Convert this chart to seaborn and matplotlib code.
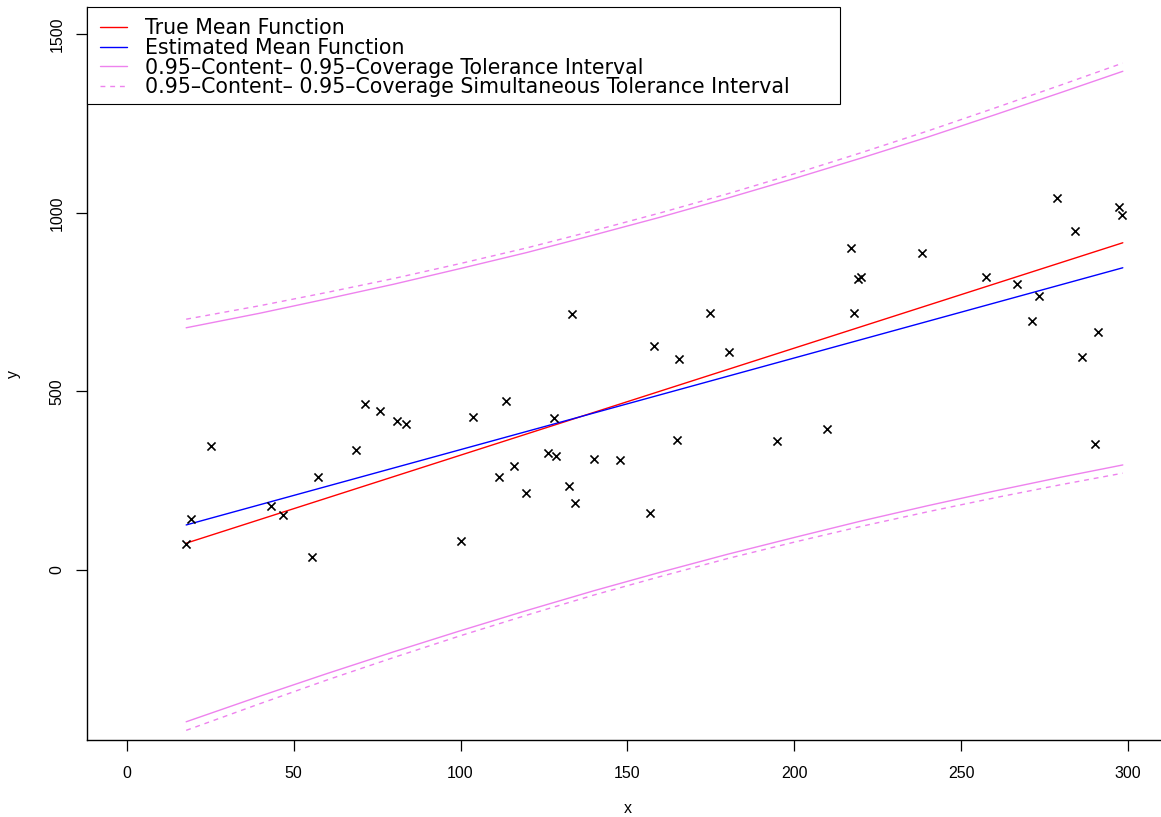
import matplotlib
matplotlib.use("Agg")
import matplotlib.pyplot as plt
from matplotlib.lines import Line2D
from matplotlib.patches import Rectangle
import seaborn as sns

# ---------------- data ----------------
x_obs = [17.8, 19.1, 25.3, 43.3, 46.8, 55.4, 57.3, 68.8, 71.4, 75.9, 81.0, 83.7,
         100.1, 103.6, 111.5, 113.5, 116.1, 119.7, 126.1, 128.1, 128.7, 132.5,
         133.4, 134.2, 140.0, 147.9, 156.9, 158.0, 164.8, 165.4, 174.7, 180.4,
         194.9, 209.7, 217.0, 217.8, 219.2, 219.9, 238.2, 257.5, 266.6, 271.1,
         273.3, 278.8, 284.0, 286.1, 290.1, 290.9, 297.4, 298.3]
y_obs = [72, 144, 348, 179, 154, 37, 259, 336, 464, 444, 418, 410,
         81, 428, 259, 472, 292, 215, 327, 425, 318, 234,
         717, 187, 310, 308, 159, 626, 364, 590, 719, 611,
         360, 394, 902, 719, 815, 820, 888, 820, 801, 697,
         767, 1041, 949, 596, 353, 666, 1016, 994]

x_line = [17.8, 298.4]
true_mean = [75, 916]
est_mean = [126, 846]

x_grid = [17.8, 40, 60, 80, 100, 120, 140, 160, 180, 200, 220, 240, 260, 280, 298.4]
upper_ti = [678, 719, 759, 800, 844, 889, 938, 988, 1041, 1096, 1153, 1212, 1274, 1337, 1396]
lower_ti = [-425, -353, -290, -229, -170, -113, -58, -6, 44, 91, 137, 180, 221, 260, 294]
upper_sti = [702, 740, 777, 816, 858, 902, 950, 1000, 1053, 1109, 1168, 1229, 1293, 1358, 1419]
lower_sti = [-449, -374, -308, -245, -184, -126, -70, -18, 32, 78, 122, 163, 202, 239, 271]

x_ticks = [0, 50, 100, 150, 200, 250, 300]
y_ticks = [0, 500, 1000, 1500]

labels = ["True Mean Function",
          "Estimated Mean Function",
          "0.95\u2013Content\u2013 0.95\u2013Coverage Tolerance Interval",
          "0.95\u2013Content\u2013 0.95\u2013Coverage Simultaneous Tolerance Interval"]

# ---------------- style ----------------
sns.set_style("white")
plt.rcParams["font.family"] = ["Liberation Sans", "DejaVu Sans"]
plt.rcParams["text.color"] = "black"
plt.rcParams["axes.labelcolor"] = "black"
plt.rcParams["xtick.color"] = "black"
plt.rcParams["ytick.color"] = "black"

W, H = 1161, 817
fig = plt.figure(figsize=(W / 100, H / 100), dpi=100)
ax = fig.add_axes([86.7 / W, 77 / H, (1168.2 - 86.7) / W, 733 / H])

VIOLET = "#EE82EE"
DASH = (0, (3.5, 3.5))

sns.lineplot(x=x_grid, y=upper_ti, color=VIOLET, lw=1.0, sort=False, ax=ax)
sns.lineplot(x=x_grid, y=lower_ti, color=VIOLET, lw=1.0, sort=False, ax=ax)
sns.lineplot(x=x_grid, y=upper_sti, color=VIOLET, lw=1.0, linestyle=DASH, sort=False, ax=ax)
sns.lineplot(x=x_grid, y=lower_sti, color=VIOLET, lw=1.0, linestyle=DASH, sort=False, ax=ax)
sns.lineplot(x=x_line, y=true_mean, color="#FF0000", lw=1.0, sort=False, ax=ax)
sns.lineplot(x=x_line, y=est_mean, color="#0000FF", lw=1.0, sort=False, ax=ax)
sns.scatterplot(x=x_obs, y=y_obs, marker="x", color="black", s=34, linewidth=1.2, ax=ax, zorder=3)

ax.set_xlim(-12, 312)
ax.set_ylim(-476, 1576)
ax.set_xticks(x_ticks)
ax.set_yticks(y_ticks)
ax.set_xticklabels([str(v) for v in x_ticks])
ax.set_yticklabels([str(v) for v in y_ticks])

for s in ["top", "right"]:
    ax.spines[s].set_visible(False)
for s in ["left", "bottom"]:
    ax.spines[s].set_color("black")
    ax.spines[s].set_linewidth(1.0)

ax.tick_params(axis="both", direction="out", length=8, width=0.9, color="black",
               labelsize=11.5, labelcolor="black", bottom=True, left=True)
ax.tick_params(axis="x", pad=10.5)
ax.tick_params(axis="y", pad=8.0, labelrotation=90)
for lab in ax.get_yticklabels():
    lab.set_va("center")

ax.set_xlabel("x", fontsize=11.5, color="black")
ax.set_ylabel("y", fontsize=11.5, color="black")
ax.xaxis.set_label_coords(0.5, -0.0832)
ax.yaxis.set_label_coords(-0.0609, 0.5)

# legend box (R style)
ax.add_patch(Rectangle((0, 0.8677), 0.6966, 0.1323, transform=ax.transAxes,
                       facecolor="white", edgecolor="black", lw=0.8,
                       zorder=4, clip_on=False))
handles = [Line2D([], [], color="#FF0000", lw=1.0),
           Line2D([], [], color="#0000FF", lw=1.0),
           Line2D([], [], color=VIOLET, lw=1.0),
           Line2D([], [], color=VIOLET, lw=1.0, linestyle=DASH)]
leg = ax.legend(handles, labels, loc="upper left",
                bbox_to_anchor=(100 / W, 1 - 18.5 / H), bbox_transform=fig.transFigure,
                frameon=False, borderpad=0, borderaxespad=0,
                handlelength=1.33, handletextpad=0.88, labelspacing=-0.02,
                prop={"family": "DejaVu Sans", "size": 14.8})
for t in leg.get_texts():
    t.set_color("black")
leg.set_zorder(5)

fig.savefig("out.png", dpi=100, facecolor="white")
